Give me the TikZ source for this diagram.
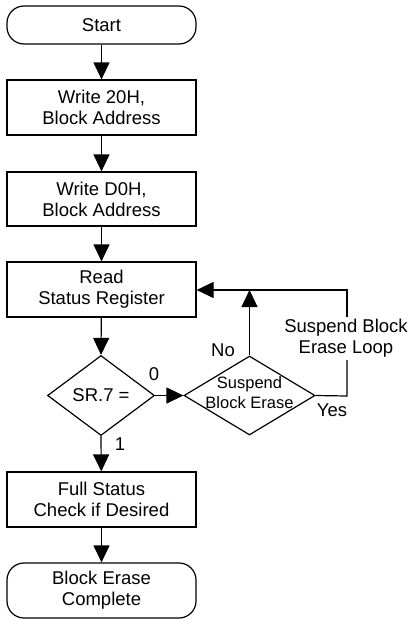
\documentclass[tikz,border=0pt]{standalone}
\usepackage{fontspec}
\setmainfont{Liberation Sans}
\usetikzlibrary{arrows.meta,shapes.geometric}
\begin{document}
\begin{tikzpicture}[x=1pt,y=-1pt,
  every node/.style={font=\fontsize{18.5}{21}\selectfont},
  arr/.style={line width=1.2pt, -{Triangle[length=17pt,width=16pt]}},
  box/.style={draw, line width=1.2pt, minimum width=189pt, minimum height=55pt, align=center, inner sep=0pt},
  term/.style={box, rounded corners=17pt},
  dia/.style={draw, line width=1.2pt, diamond, inner sep=0pt},
  lbl/.style={inner sep=0pt}
]
\useasboundingbox (0,0) rectangle (413,621);
\node[term, minimum height=38pt] (start) at (101.5,25) {Start};
\node[box] (b1) at (101.5,107.5) {Write 20H,\\Block Address};
\node[box, minimum height=54pt] (b2) at (101.5,199) {Write D0H,\\Block Address};
\node[box] (b3) at (101.5,289.5) {Read\\Status Register};
\node[dia, minimum width=107pt, minimum height=80pt] (d1) at (101,395.5) {};
\node[lbl] (d1t) at (d1.center) {SR.7 =};
\node[dia, minimum width=131pt, minimum height=79pt] (d2) at (249.5,395.5) {};
\node[lbl, font=\fontsize{16.5}{20}\selectfont, align=center] (d2t) at (249.5,393) {Suspend\\Block Erase};
\node[box] (b4) at (101.5,499.5) {Full Status\\Check if Desired};
\node[term] (end) at (101.5,590.5) {Block Erase\\Complete};
\node[lbl, align=center] (loop) at (346,338) {Suspend Block\\Erase Loop};
\node[lbl] (no) at (223,350) {No};
\node[lbl] (yes) at (332,410) {Yes};
\node[lbl] (zero) at (154,374) {0};
\node[lbl] (one) at (120,444) {1};
\coordinate (j) at (249.5,290);
\coordinate (r) at (347,290);
\coordinate (g1) at (347,317);
\coordinate (g2) at (347,360);
\coordinate (c) at (347,396);
\draw[arr] (start) -- (b1);
\draw[arr] (b1) -- (b2);
\draw[arr] (b2) -- (b3);
\draw[arr] (b3) -- (d1.north);
\draw[arr] (d1.south) -- (b4);
\draw[arr] (b4) -- (end);
\draw[arr] (d1.east) -- (d2.west);
\draw[arr] (d2.north) -- (j);
\draw[arr] (g1) -- (r) -- (b3.east |- r);
\draw[line width=1.2pt] (d2.east) -- (c) -- (g2);
\end{tikzpicture}
\end{document}
